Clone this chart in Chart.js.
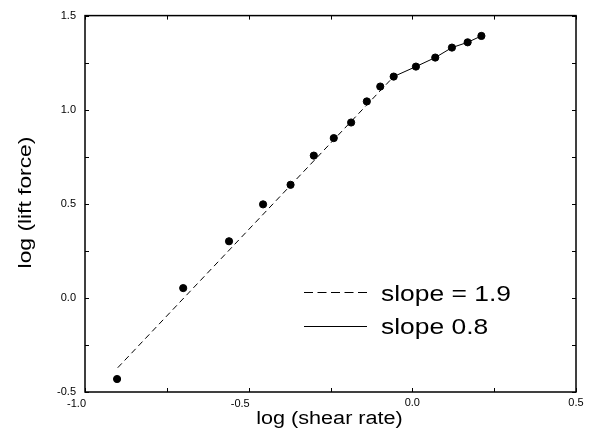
<!DOCTYPE html>
<html><head><meta charset="utf-8">
<script src="https://cdn.jsdelivr.net/npm/chart.js@4/dist/chart.umd.min.js"></script>
<style>html,body{margin:0;padding:0;background:#fff}#wrap{width:592px;height:434px}</style>
</head><body><div id="wrap"><canvas id="c" width="592" height="434"></canvas></div>
<script>
const shearX = [-0.902,-0.700,-0.560,-0.456,-0.372,-0.301,-0.240,-0.187,-0.139,-0.098,-0.057,0.011,0.070,0.121,0.169,0.211];
const forceY = [-0.431,0.052,0.301,0.497,0.601,0.756,0.849,0.932,1.044,1.123,1.176,1.229,1.277,1.330,1.358,1.392];
const dashedX = [-0.900,-0.057];
const dashedY = [-0.371,1.176];
const solidStart = 10;
const legendLabels = ['slope = 1.9','slope 0.8'];
const xTickLabels = ['-1.0','-0.5','0.0','0.5'];
const yTickLabels = ['-0.5','0.0','0.5','1.0','1.5'];
const xTitle = 'log (shear rate)';
const yTitle = 'log (lift force)';

const pts = shearX.map((x,i)=>({x, y: forceY[i]}));
const dashPts = dashedX.map((x,i)=>({x, y: dashedY[i]}));
const solidPts = pts.slice(solidStart);

const FONT = "'Liberation Sans', Arial, sans-serif";
const STRETCH = 1.2;

function fmt(v, labels){
  const t = (Math.abs(v) < 1e-9) ? '0.0' : v.toFixed(1);
  return labels.includes(t) ? t : '';
}

function wideText(ctx, text, x, y, size, align){
  ctx.save();
  ctx.font = size + 'px ' + FONT;
  ctx.textBaseline = 'alphabetic';
  ctx.textAlign = 'left';
  const w = ctx.measureText(text).width * STRETCH;
  let x0 = x;
  if (align === 'center') x0 = x - w/2;
  ctx.translate(x0, y);
  ctx.scale(STRETCH, 1);
  ctx.fillText(text, 0, 0);
  ctx.restore();
}

const frameTicks = {
  id: 'frameTicks',
  afterDraw(chart){
    const ctx = chart.ctx, a = chart.chartArea;
    const xs = chart.scales.x, ys = chart.scales.y;
    ctx.save();
    ctx.strokeStyle = '#000';
    ctx.fillStyle = '#000';
    ctx.lineWidth = 1;
    const L = 4;
    ctx.beginPath();
    xs.ticks.forEach(t=>{
      const p = Math.round(xs.getPixelForValue(t.value))+0.5;
      ctx.moveTo(p, a.bottom); ctx.lineTo(p, a.bottom - L);
      ctx.moveTo(p, a.top); ctx.lineTo(p, a.top + L);
    });
    ys.ticks.forEach(t=>{
      const p = Math.round(ys.getPixelForValue(t.value))+0.5;
      ctx.moveTo(a.left, p); ctx.lineTo(a.left + L, p);
      ctx.moveTo(a.right, p); ctx.lineTo(a.right - L, p);
    });
    ctx.stroke();
    ctx.lineWidth = 1.5;
    ctx.strokeRect(a.left, a.top, a.right - a.left, a.bottom - a.top);

    // x tick labels
    ctx.font = '11px ' + FONT;
    ctx.textBaseline = 'middle';
    xs.ticks.forEach(t=>{
      const lbl = fmt(t.value, xTickLabels);
      if (!lbl) return;
      const p = xs.getPixelForValue(t.value);
      if (t.value < 0) { ctx.textAlign = 'right'; ctx.fillText(lbl, p + 1, a.bottom + 12); }
      else { ctx.textAlign = 'center'; ctx.fillText(lbl, p, a.bottom + 11); }
    });

    // axis titles
    wideText(ctx, xTitle, (a.left + a.right)/2 - 1, 423.5, 18, 'center');
    ctx.save();
    ctx.translate(30.5, 202.5);
    ctx.rotate(-Math.PI/2);
    wideText(ctx, yTitle, 0, 0, 19, 'center');
    ctx.restore();

    // legend
    const lx0 = 304, lx1 = 367, tx = 381;
    const ly = [292, 326];
    ctx.lineWidth = 1;
    ctx.setLineDash([9,4.5]);
    ctx.beginPath(); ctx.moveTo(lx0, ly[0]+0.5); ctx.lineTo(lx1, ly[0]+0.5); ctx.stroke();
    ctx.setLineDash([]);
    ctx.beginPath(); ctx.moveTo(lx0, ly[1]+0.5); ctx.lineTo(lx1, ly[1]+0.5); ctx.stroke();
    wideText(ctx, legendLabels[0], tx, 301, 22, 'left');
    wideText(ctx, legendLabels[1], tx, 334, 22, 'left');
    ctx.restore();
  }
};

new Chart(document.getElementById('c'), {
  type: 'scatter',
  data: {
    datasets: [
      { data: pts, backgroundColor:'#000', borderColor:'#000', pointRadius:3.6, pointHoverRadius:3.6, showLine:false, order:0 },
      { data: dashPts, type:'line', borderColor:'#000', borderWidth:1, borderDash:[6,4], pointRadius:0, fill:false, order:1 },
      { data: solidPts, type:'line', borderColor:'#000', borderWidth:1, pointRadius:0, fill:false, order:1 }
    ]
  },
  options: {
    responsive:false, animation:false,
    layout:{ padding:0 },
    plugins:{ legend:{display:false}, tooltip:{enabled:false} },
    scales:{
      x:{ type:'linear', position:'bottom', min:-1.0, max:0.5,
        afterFit(s){ s.height = 42; },
        grid:{ display:false, drawTicks:false },
        border:{ display:false },
        ticks:{ stepSize:0.25, autoSkip:false, maxRotation:0, color:'rgba(0,0,0,0)',
          font:{ family:FONT, size:11 }, callback:(v)=>fmt(v, xTickLabels) }
      },
      y:{ type:'linear', position:'left', min:-0.5, max:1.5,
        afterFit(s){ s.width = 85; },
        grid:{ display:false, drawTicks:false },
        border:{ display:false },
        ticks:{ stepSize:0.25, autoSkip:false, padding:9, color:'#000',
          font:{ family:FONT, size:11 }, callback:(v)=>fmt(v, yTickLabels) }
      },
      y2:{ type:'linear', position:'right', min:-0.5, max:1.5, afterFit(s){ s.width = 16; },
        grid:{display:false, drawTicks:false}, border:{display:false}, ticks:{display:false} },
      x2:{ type:'linear', position:'top', min:-1.0, max:0.5, afterFit(s){ s.height = 15; },
        grid:{display:false, drawTicks:false}, border:{display:false}, ticks:{display:false} }
    }
  },
  plugins:[frameTicks]
});
</script></body></html>
